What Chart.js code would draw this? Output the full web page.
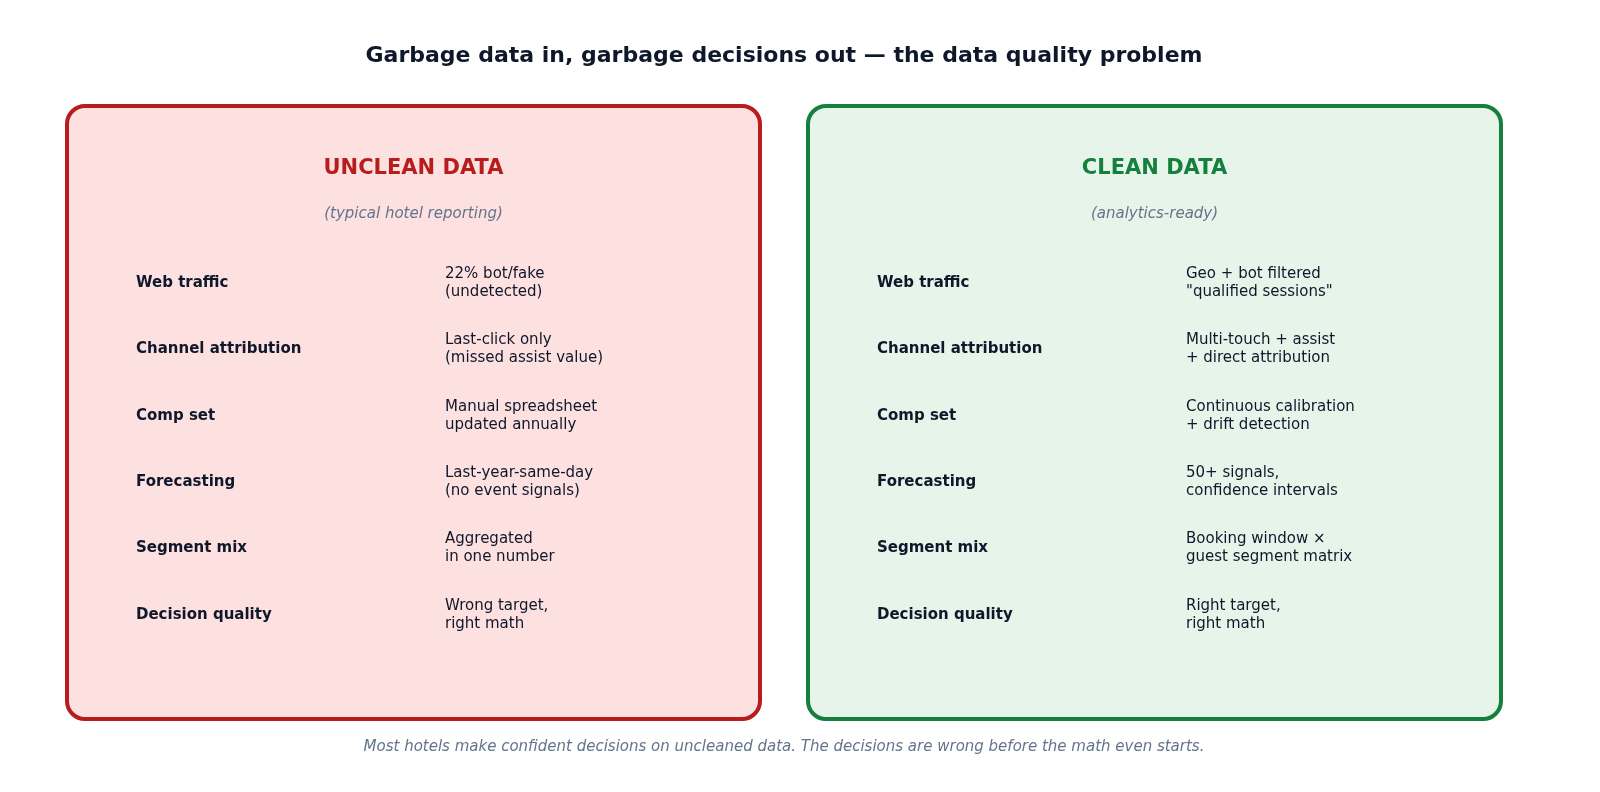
<!DOCTYPE html>
<html>
<head>
<meta charset="utf-8">
<script src="https://cdn.jsdelivr.net/npm/chart.js@4"></script>
<style>
  html, body { margin: 0; padding: 0; background: #fff; overflow: hidden; }
  canvas { display: block; }
</style>
</head>
<body>
<canvas id="board" width="1600" height="792"></canvas>
<script>
const chartTitle = 'Garbage data in, garbage decisions out \u2014 the data quality problem';
const footNote = 'Most hotels make confident decisions on uncleaned data. The decisions are wrong before the math even starts.';

const rowLabels = ['Web traffic', 'Channel attribution', 'Comp set', 'Forecasting', 'Segment mix', 'Decision quality'];
const uncleanValues = [
    ['22% bot/fake', '(undetected)'],
    ['Last-click only', '(missed assist value)'],
    ['Manual spreadsheet', 'updated annually'],
    ['Last-year-same-day', '(no event signals)'],
    ['Aggregated', 'in one number'],
    ['Wrong target,', 'right math']
];
const cleanValues = [
    ['Geo + bot filtered', '"qualified sessions"'],
    ['Multi-touch + assist', '+ direct attribution'],
    ['Continuous calibration', '+ drift detection'],
    ['50+ signals,', 'confidence intervals'],
    ['Booking window \u00d7', 'guest segment matrix'],
    ['Right target,', 'right math']
];

const FONT = '"DejaVu Sans", sans-serif';

// panel layout in the board's own coordinate space (0..1600 x 0..792)
const panels = [
    { x0: 67, x1: 760, head: 'UNCLEAN DATA', sub: '(typical hotel reporting)', values: uncleanValues, stroke: '#b91c1c', fill: '#fde0e0', headColor: '#b91c1c' },
    { x0: 808, x1: 1501, head: 'CLEAN DATA', sub: '(analytics-ready)', values: cleanValues, stroke: '#15803d', fill: '#e6f4ea', headColor: '#15803d' }
];
const rowY = [283, 349, 416, 482, 548, 615];

const boardPlugin = {
    id: 'board',
    afterDatasetsDraw(chart) {
        const ctx = chart.ctx;
        const sx = v => chart.scales.x.getPixelForValue(v);
        const sy = v => chart.scales.y.getPixelForValue(v);
        ctx.save();
        ctx.textBaseline = 'middle';

        ctx.fillStyle = '#0f172a';
        ctx.textAlign = 'center';
        ctx.font = 'bold 22px ' + FONT;
        ctx.fillText(chartTitle, sx(784), sy(56));

        panels.forEach(p => {
            const x = sx(p.x0), y = sy(106), w = sx(p.x1) - x, h = sy(719) - y;
            ctx.beginPath();
            ctx.roundRect(x, y, w, h, 18);
            ctx.fillStyle = p.fill;
            ctx.fill();
            ctx.lineWidth = 4;
            ctx.strokeStyle = p.stroke;
            ctx.stroke();

            const cx = sx((p.x0 + p.x1) / 2);
            ctx.textAlign = 'center';
            ctx.fillStyle = p.headColor;
            ctx.font = 'bold 21px ' + FONT;
            ctx.fillText(p.head, cx, sy(169));
            ctx.fillStyle = '#64748b';
            ctx.font = 'italic 15px ' + FONT;
            ctx.fillText(p.sub, cx, sy(214));

            ctx.textAlign = 'left';
            rowLabels.forEach((lab, i) => {
                ctx.fillStyle = '#0f172a';
                ctx.font = 'bold 15px ' + FONT;
                ctx.fillText(lab, sx(p.x0 + 69), sy(rowY[i]));
                ctx.font = '15px ' + FONT;
                ctx.fillText(p.values[i][0], sx(p.x0 + 378), sy(rowY[i] - 9));
                ctx.fillText(p.values[i][1], sx(p.x0 + 378), sy(rowY[i] + 9));
            });
        });

        ctx.textAlign = 'center';
        ctx.fillStyle = '#64748b';
        ctx.font = 'italic 15px ' + FONT;
        ctx.fillText(footNote, sx(784), sy(747));
        ctx.restore();
    }
};

new Chart(document.getElementById('board'), {
    type: 'scatter',
    data: { datasets: [{ data: [] }] },
    options: {
        responsive: false,
        devicePixelRatio: 1,
        animation: false,
        layout: { padding: 0 },
        plugins: { legend: { display: false }, tooltip: { enabled: false } },
        scales: {
            x: { type: 'linear', min: 0, max: 1600, display: false },
            y: { type: 'linear', min: 0, max: 792, reverse: true, display: false }
        }
    },
    plugins: [boardPlugin]
});
</script>
</body>
</html>
